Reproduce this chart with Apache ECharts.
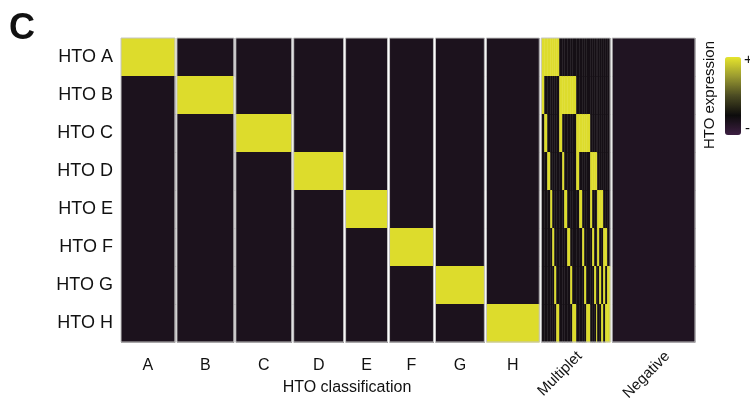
<!DOCTYPE html>
<html>
<head>
<meta charset="utf-8">
<script src="https://cdn.jsdelivr.net/npm/echarts@6/dist/echarts.min.js"></script>
<style>
  html, body { margin: 0; padding: 0; background: #fff; }
  #chart { width: 750px; height: 408px; }
</style>
</head>
<body>
<div id="chart"></div>
<script>
// rows of the heatmap (top to bottom)
const rowNames = ['HTO A', 'HTO B', 'HTO C', 'HTO D', 'HTO E', 'HTO F', 'HTO G', 'HTO H'];
// column groups = HTO classification, and number of cells in each
const groupNames = ['A', 'B', 'C', 'D', 'E', 'F', 'G', 'H', 'Multiplet', 'Negative'];
const groupCells = [54, 57, 56, 50, 42, 44, 49, 53, 69, 83];

// expression level per row, for groups A..H and Negative (0 = low, 1 = high)
const levelsA   = [0.97, 0.17, 0.17, 0.17, 0.17, 0.17, 0.17, 0.17];
const levelsB   = [0.17, 0.97, 0.17, 0.17, 0.17, 0.17, 0.17, 0.17];
const levelsC   = [0.17, 0.17, 0.97, 0.17, 0.17, 0.17, 0.17, 0.17];
const levelsD   = [0.17, 0.17, 0.17, 0.97, 0.17, 0.17, 0.17, 0.17];
const levelsE   = [0.17, 0.17, 0.17, 0.17, 0.97, 0.17, 0.17, 0.17];
const levelsF   = [0.17, 0.17, 0.17, 0.17, 0.17, 0.97, 0.17, 0.17];
const levelsG   = [0.17, 0.17, 0.17, 0.17, 0.17, 0.17, 0.97, 0.17];
const levelsH   = [0.17, 0.17, 0.17, 0.17, 0.17, 0.17, 0.17, 0.97];
const levelsNeg = [0.15, 0.15, 0.15, 0.15, 0.15, 0.15, 0.15, 0.15];

// multiplets: pair of high HTOs and number of cells for each pair
const multipletPairs = ['AB', 'AC', 'AD', 'AE', 'AF', 'AG', 'AH',
                        'BC', 'BD', 'BE', 'BF', 'BG', 'BH',
                        'CD', 'CE', 'CF', 'CG', 'CH',
                        'DE', 'DF', 'DG', 'DH',
                        'EF', 'EG', 'EH',
                        'FG', 'FH',
                        'GH'];
const multipletCells = [3, 3, 3, 2, 2, 2, 3,
                        3, 2, 3, 3, 2, 4,
                        3, 3, 2, 2, 4,
                        2, 2, 2, 1,
                        2, 2, 2,
                        2, 2,
                        3];
const multipletHigh = 0.97;
const multipletLow = 0.21;

const gap = 2;
const fontFamily = '"Liberation Sans", Arial, sans-serif';

// build cell blocks [x0, x1, row, value]
let groupLevels = [levelsA, levelsB, levelsC, levelsD, levelsE, levelsF, levelsG, levelsH];
let cells = [];
let outlines = [];
let centers = [];
let x = 0;
groupNames.forEach(function(name, g) {
	let x0 = x, x1 = x + groupCells[g];
	outlines.push([x0, x1]);
	centers.push((x0 + x1) / 2);
	if (name == 'Multiplet') {
		let px = x0;
		multipletPairs.forEach(function(pair, k) {
			let w = multipletCells[k];
			rowNames.forEach(function(r, ri) {
				let letter = r.slice(-1);
				let v = pair.indexOf(letter) >= 0 ? multipletHigh : multipletLow;
				cells.push([px, px + w, ri, v]);
			});
			px += w;
		});
	} else {
		let lv = name == 'Negative' ? levelsNeg : groupLevels[g];
		rowNames.forEach(function(r, ri) {
			cells.push([x0, x1, ri, lv[ri]]);
		});
	}
	x = x1 + gap;
});
const total = x - gap;

// rotated labels sit a little right of the group centre
let rotatedAt = [centers[8] + 4, centers[9] + 14];

function nameAt(value) {
	let best = 0;
	centers.forEach(function(c, i) {
		if (Math.abs(c - value) < Math.abs(centers[best] - value)) best = i;
	});
	return groupNames[best];
}

let chart = echarts.init(document.getElementById('chart'));
let option = {
	backgroundColor: '#fff',
	animation: false,
	grid: { left: 121, right: 55, top: 38, bottom: 66, containLabel: false, outerBoundsMode: 'none' },
	xAxis: [
		{
			type: 'value', min: 0, max: total,
			axisLine: { show: false }, axisTick: { show: false }, splitLine: { show: false },
			axisLabel: {
				customValues: centers.slice(0, 8),
				formatter: nameAt,
				fontFamily: fontFamily, fontSize: 16, color: '#111', margin: 16
			}
		},
		{
			type: 'value', min: 0, max: total, position: 'bottom',
			axisLine: { show: false }, axisTick: { show: false }, splitLine: { show: false },
			axisLabel: {
				customValues: rotatedAt,
				formatter: nameAt,
				rotate: 45,
				fontFamily: fontFamily, fontSize: 15, color: '#111', margin: 12
			}
		}
	],
	yAxis: {
		type: 'category', data: rowNames, inverse: true,
		axisLine: { show: false }, axisTick: { show: false }, splitLine: { show: false },
		axisLabel: { fontFamily: fontFamily, fontSize: 18, color: '#111', margin: 8 }
	},
	visualMap: {
		type: 'continuous', min: 0, max: 1, dimension: 3, seriesIndex: 0,
		left: 725, top: 57, itemWidth: 16, itemHeight: 78, padding: 0,
		calculable: false, showLabel: false,
		inRange: { color: ['#3d1f42', '#0d0c0c', '#4a4a22', '#9a9a30', '#e6e52c'] }
	},
	series: [
		{
			type: 'custom',
			encode: { x: [0, 1], y: 2 },
			data: cells,
			renderItem: function(params, api) {
				let p0 = api.coord([api.value(0), api.value(2)]);
				let p1 = api.coord([api.value(1), api.value(2)]);
				let h = api.size([0, 1])[1];
				return {
					type: 'rect',
					shape: { x: p0[0], y: p0[1] - h / 2, width: p1[0] - p0[0] + 0.4, height: h + 0.4 },
					style: { fill: api.visual('color') }
				};
			}
		},
		{
			type: 'custom',
			encode: { x: [0, 1] },
			data: outlines,
			silent: true,
			renderItem: function(params, api) {
				let top = api.coord([api.value(0), 0]);
				let bot = api.coord([api.value(1), rowNames.length - 1]);
				let h = api.size([0, 1])[1];
				return {
					type: 'rect',
					shape: { x: top[0], y: top[1] - h / 2, width: bot[0] - top[0], height: bot[1] - top[1] + h },
					style: { fill: 'none', stroke: '#c4c4c4', lineWidth: 1 }
				};
			}
		}
	],
	graphic: [
		{ type: 'text', x: 22, y: 29, style: { text: 'C', font: 'bold 36px ' + fontFamily, fill: '#111', textAlign: 'center', textVerticalAlign: 'middle' } },
		{ type: 'text', x: 347, y: 388, style: { text: 'HTO classification', font: '16px ' + fontFamily, fill: '#111', textAlign: 'center', textVerticalAlign: 'middle' } },
		{ type: 'text', x: 710, y: 95, rotation: Math.PI / 2, style: { text: 'HTO expression', font: '15px ' + fontFamily, fill: '#111', textAlign: 'center', textVerticalAlign: 'middle' } },
		{ type: 'text', x: 744, y: 60, style: { text: '+', font: '15px ' + fontFamily, fill: '#111', textAlign: 'left', textVerticalAlign: 'middle' } },
		{ type: 'text', x: 745, y: 129, style: { text: '-', font: '15px ' + fontFamily, fill: '#111', textAlign: 'left', textVerticalAlign: 'middle' } }
	]
};
chart.setOption(option);
</script>
</body>
</html>
